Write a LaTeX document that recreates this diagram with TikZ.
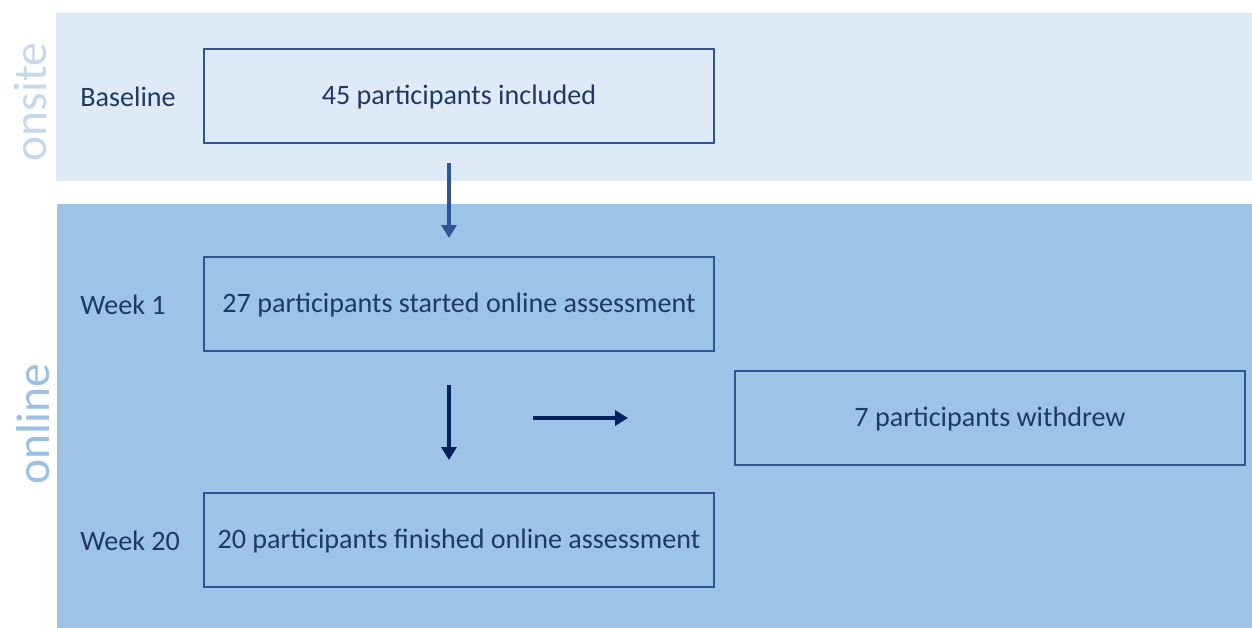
\documentclass[tikz,border=0pt]{standalone}
\usepackage{fontspec}
\setmainfont{Carlito}
\usetikzlibrary{arrows.meta}
\definecolor{onsiteband}{HTML}{DEEBF7}
\definecolor{onlineband}{HTML}{9DC3E6}
\definecolor{boxline}{HTML}{2F5597}
\definecolor{navytext}{HTML}{203864}
\definecolor{arrowblue}{HTML}{2F5597}
\definecolor{arrownavy}{HTML}{002060}
\definecolor{onsitetext}{HTML}{C5D9EE}
\definecolor{onlinetext}{HTML}{9AC1E5}
\begin{document}
\begin{tikzpicture}[x=0.02cm,y=-0.02cm,
	stagebox/.style={draw=boxline,line width=0.8pt,minimum width=10.2cm,minimum height=1.88cm,
		inner sep=0pt,text height=1em,text depth=0pt,text=navytext,font=\fontsize{16}{19}\selectfont},
	stagelabel/.style={anchor=west,inner sep=0pt,text=navytext,font=\fontsize{16}{19}\selectfont},
	sidelabel/.style={rotate=90,inner sep=0pt,font=\fontsize{27}{30}\selectfont},
	flowarrow/.style={line width=2.2pt,-{Triangle[length=0.26cm,width=0.3cm]}}]
	\useasboundingbox (0,0) rectangle (1252,628);
	% bands
	\fill[onsiteband] (56,13) rectangle (1252,181);
	\fill[onlineband] (57,204) rectangle (1252,628);
	\node[sidelabel,text=onsitetext] (onsite) at (30,102) {onsite};
	\node[sidelabel,text=onlinetext] (online) at (33,424) {online};
	% stages
	\node[stagelabel] (base) at (80,97) {Baseline};
	\node[stagelabel] (wk1) at (80,305) {Week 1};
	\node[stagelabel] (wk20) at (80,541) {Week 20};
	\node[stagebox] (incl) at (459,96) {45 participants included};
	\node[stagebox] (start) at (459,304) {27 participants started online assessment};
	\node[stagebox] (fin) at (459,540) {20 participants finished online assessment};
	\node[stagebox] (wd) at (990,418) {7 participants withdrew};
	% arrows
	\path (449,163) coordinate (a1) (449,238) coordinate (b1)
	(449,385) coordinate (a2) (449,460) coordinate (b2)
	(533,418) coordinate (a3) (628,418) coordinate (b3);
	\draw[flowarrow,arrowblue] (a1)--(b1);
	\foreach \s/\e in {a2/b2,a3/b3} \draw[flowarrow,arrownavy] (\s)--(\e);
\end{tikzpicture}
\end{document}
